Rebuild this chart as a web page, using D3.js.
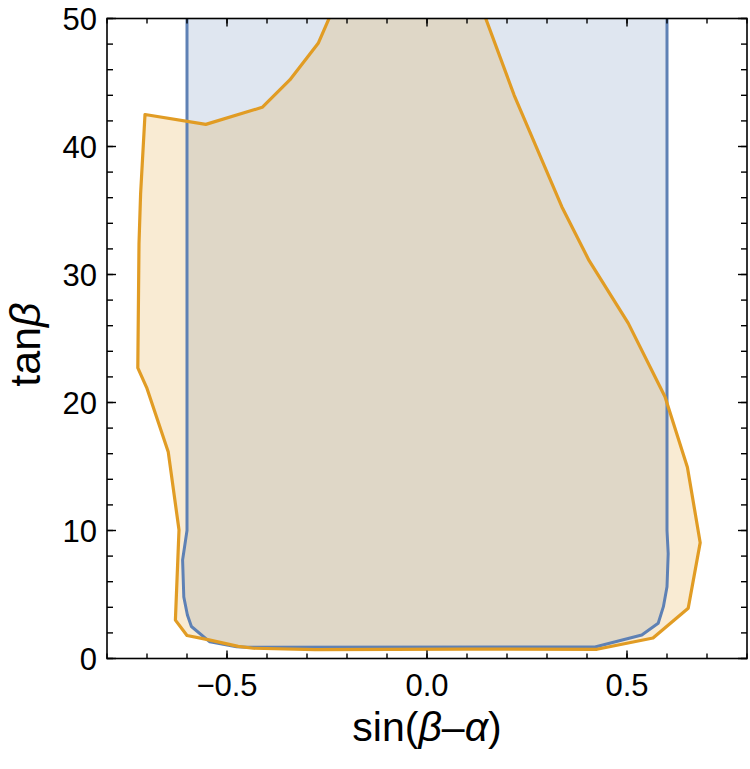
<!DOCTYPE html>
<html>
<head>
<meta charset="utf-8">
<script src="https://cdn.jsdelivr.net/npm/d3@7"></script>
<style>
  body { margin: 0; background: #fff; }
  text { font-family: "Liberation Sans", Arial, sans-serif; fill: #000; }
</style>
</head>
<body>
<div id="chart"></div>
<script>
// boundary of the blue region, [sin(beta-alpha), tanBeta]
blueRegion = [
  [-0.6, 51], [-0.6, 10], [-0.611, 7.7], [-0.608, 4.8], [-0.599, 3.4],
  [-0.589, 2.5], [-0.543, 1.3], [-0.476, 0.92], [-0.45, 0.88], [0.42, 0.9],
  [0.537, 1.84], [0.578, 2.75], [0.591, 4.05], [0.6, 5.6], [0.603, 8.2],
  [0.6, 10], [0.6, 51]
]

// boundary of the orange region
orangeRegion = [
  [-0.231, 51], [-0.272, 48.06], [-0.343, 45.2], [-0.412, 43.06], [-0.553, 41.73],
  [-0.705, 42.5], [-0.716, 36.3], [-0.72, 32.4], [-0.723, 22.7], [-0.70, 21.1],
  [-0.647, 16.16], [-0.62, 10.04], [-0.629, 3.0], [-0.60, 1.8], [-0.545, 1.45],
  [-0.472, 0.95], [-0.434, 0.8], [-0.28, 0.7], [0.1, 0.74], [0.425, 0.72],
  [0.565, 1.6], [0.653, 3.92], [0.683, 9.05], [0.651, 14.94], [0.595, 20.45],
  [0.503, 26.2], [0.405, 31.1], [0.337, 35.3], [0.218, 44.0], [0.135, 51]
]

xMajor = [-0.5, 0.0, 0.5]
xMinor = d3.range(-8, 9).map(d => d / 10)
yMajor = [0, 10, 20, 30, 40, 50]
yMinor = d3.range(0, 51, 2)

margin = {top: 18.5, right: 3, bottom: 110.5, left: 107},
width = 750 - margin.left - margin.right,
height = 769 - margin.top - margin.bottom;

svg = d3.select("#chart")
  .append("svg")
  .attr("width", 750)
  .attr("height", 769)
  .append("g")
  .attr("transform", `translate(${margin.left}, ${margin.top})`);

x = d3.scaleLinear().domain([-0.8, 0.8]).range([0, width])
y = d3.scaleLinear().domain([0, 50]).range([height, 0])

svg.append("clipPath").attr("id", "clip")
  .append("rect").attr("width", width).attr("height", height)

line = d3.line().x(d => x(d[0])).y(d => y(d[1])).curve(d3.curveLinearClosed)

plot = svg.append("g").attr("clip-path", "url(#clip)")

// fills first, outlines on top
plot.append("path")
  .attr("d", line(blueRegion))
  .style("fill", "rgba(94,129,181,0.2)")
plot.append("path")
  .attr("d", line(orangeRegion))
  .style("fill", "rgba(225,156,36,0.2)")

plot.append("path")
  .attr("d", line(blueRegion))
  .style("fill", "none")
  .style("stroke", "#5e81b5")
  .style("stroke-width", 3)
  .style("stroke-linejoin", "round")
plot.append("path")
  .attr("d", line(orangeRegion))
  .style("fill", "none")
  .style("stroke", "#e19c24")
  .style("stroke-width", 3.2)
  .style("stroke-linejoin", "round")

// frame ticks, drawn inward on all four sides
ticks = svg.append("g")
function tickSet(vals, len) {
  vals.forEach(v => {
    ticks.append("line").attr("x1", x(v)).attr("x2", x(v)).attr("y1", height).attr("y2", height - len)
    ticks.append("line").attr("x1", x(v)).attr("x2", x(v)).attr("y1", 0).attr("y2", len)
  })
}
function tickSetY(vals, len) {
  vals.forEach(v => {
    ticks.append("line").attr("y1", y(v)).attr("y2", y(v)).attr("x1", 0).attr("x2", len)
    ticks.append("line").attr("y1", y(v)).attr("y2", y(v)).attr("x1", width).attr("x2", width - len)
  })
}
tickSet(xMinor, 5)
tickSet(xMajor, 8)
tickSetY(yMinor, 6)
tickSetY(yMajor, 9)
ticks.selectAll("line").style("stroke", "#000").style("stroke-width", 1.4)

svg.append("rect")
  .attr("width", width).attr("height", height)
  .style("fill", "none").style("stroke", "#000").style("stroke-width", 1.6)

svg.selectAll(".xl").data(xMajor).join("text")
  .attr("x", d => x(d)).attr("y", height + 37)
  .attr("text-anchor", "middle")
  .style("font-size", "31px")
  .text(d => d3.format(".1f")(d).replace("-", "\u2212"))

svg.selectAll(".yl").data(yMajor).join("text")
  .attr("x", -10).attr("y", d => y(d) + 11)
  .attr("text-anchor", "end")
  .style("font-size", "31px")
  .text(d => d)

xt = svg.append("text")
  .attr("x", width / 2).attr("y", height + 82)
  .attr("text-anchor", "middle")
  .style("font-size", "41px")
xt.append("tspan").text("sin(")
xt.append("tspan").style("font-style", "italic").text("β")
xt.append("tspan").text("\u2013")
xt.append("tspan").style("font-style", "italic").text("α")
xt.append("tspan").text(")")

yt = svg.append("text")
  .attr("transform", `translate(${-67}, ${height / 2 + 6}) rotate(-90)`)
  .attr("text-anchor", "middle")
  .style("font-size", "43px")
yt.append("tspan").text("tan")
yt.append("tspan").style("font-style", "italic").text("β")
</script>
</body>
</html>
